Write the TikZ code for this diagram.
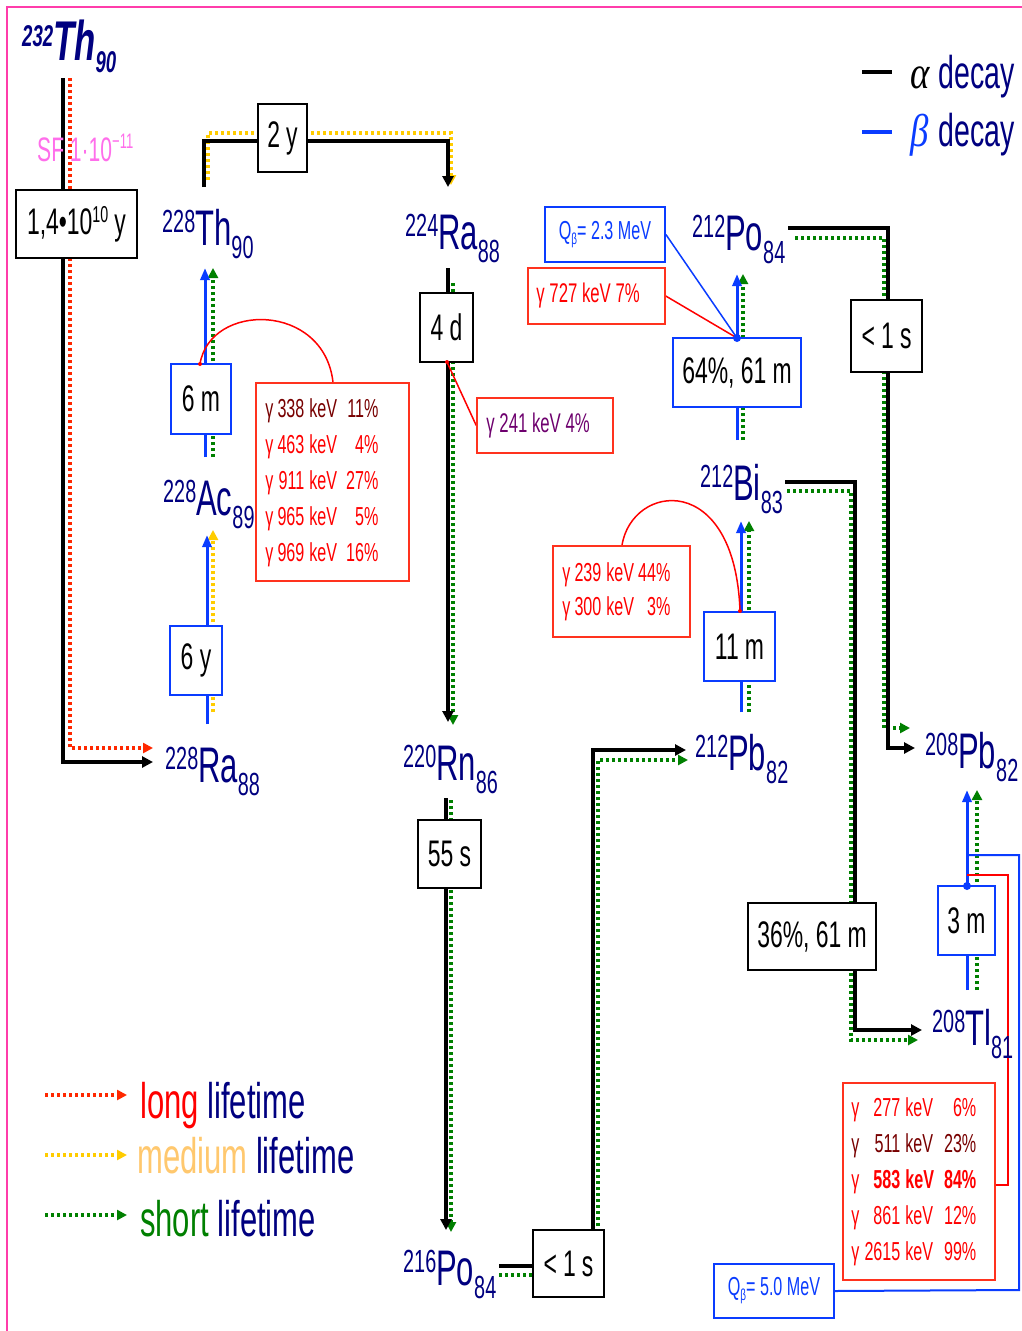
\documentclass[tikz,border=0pt]{standalone}
\usepackage{fontspec}
\setmainfont{Liberation Sans}[FakeStretch=0.62]
\newfontfamily\grk{Liberation Serif}[FakeStretch=0.8]
\usetikzlibrary{arrows.meta,backgrounds}
\definecolor{navyc}{RGB}{0,0,128}
\definecolor{bluec}{RGB}{10,60,255}
\definecolor{redd}{RGB}{255,40,0}
\definecolor{yelc}{RGB}{255,204,0}
\definecolor{greenc}{RGB}{0,128,0}
\definecolor{pinkb}{RGB}{255,60,170}
\definecolor{sfpink}{RGB}{255,110,235}
\definecolor{redt}{RGB}{255,0,0}
\definecolor{maroonc}{RGB}{120,0,0}
\definecolor{purplec}{RGB}{110,0,110}
\definecolor{gboxc}{RGB}{255,50,30}
\definecolor{mediumc}{RGB}{255,200,110}
\newcommand{\nuc}[3]{{\fontsize{32}{32}\selectfont\raisebox{13pt}{#1}}{\fontsize{50}{50}\selectfont #2}{\fontsize{32}{32}\selectfont\raisebox{-13pt}{#3}}}
\newcommand{\bx}[7]{\node[#6, minimum width={(#4-#2)*1pt}, minimum height={(#5-#3)*1pt}] (#1) at ({(#2+#4)/2},{(#3+#5)/2}) {#7};}
\newcommand{\gr}[3]{\textcolor{#1}{γ} & \textcolor{#1}{#2} & \textcolor{#1}{keV} & \textcolor{#1}{#3}\\}
\newcommand{\grb}[3]{\textcolor{#1}{γ} & \textcolor{#1}{\bfseries #2} & \textcolor{#1}{\bfseries keV} & \textcolor{#1}{\bfseries #3}\\}
\tikzset{
 alph/.style={black, line width=3.5pt},
 bet/.style={bluec, line width=3pt},
 dots/.style={line width=3.5pt, dash pattern=on 3pt off 3pt},
 tipA/.style={-{Triangle[length=11pt,width=11pt]}},
 tipD/.style={-{Triangle[length=10pt,width=10pt]}},
 tipB/.style={-{Triangle[length=12pt,width=9pt]}},
 hbox/.style={draw=black, line width=1.3pt, fill=white, inner sep=0pt, font=\fontsize{37}{37}\selectfont},
 bbox/.style={hbox, draw=bluec, line width=1.8pt},
 gbox/.style={draw=gboxc, line width=1.5pt, fill=white, inner sep=0pt},
 qbox/.style={draw=bluec, line width=1.8pt, fill=white, inner sep=0pt, text=bluec, font=\fontsize{26}{26}\selectfont},
 nucs/.style={inner sep=0pt, text=navyc, anchor=base west},
 txt/.style={inner sep=0pt, anchor=base west},
 gtext/.style={inner sep=0pt, anchor=west},
}
\begin{document}
\begin{tikzpicture}[x=1pt,y=-1pt]
\useasboundingbox (0,0) rectangle (1021,1331);
% nuclides
\node[nucs] (th232) at (22,60) {\bfseries\itshape{\fontsize{30}{30}\selectfont\raisebox{14pt}{232}}{\fontsize{56}{56}\selectfont Th}{\fontsize{30}{30}\selectfont\raisebox{-12pt}{90}}};
\node[nucs] (th228) at (162,245) {\nuc{228}{Th}{90}};
\node[nucs] (ra224) at (405,249) {\nuc{224}{Ra}{88}};
\node[nucs] (ac228) at (163,515) {\nuc{228}{Ac}{89}};
\node[nucs] (ra228) at (165,782) {\nuc{228}{Ra}{88}};
\node[nucs] (rn220) at (403,780) {\nuc{220}{Rn}{86}};
\node[nucs] (po216) at (403,1285) {\nuc{216}{Po}{84}};
\node[nucs] (pb212) at (695,770) {\nuc{212}{Pb}{82}};
\node[nucs] (bi212) at (700,500) {\nuc{212}{Bi}{83}};
\node[nucs] (po212) at (692,250) {\nuc{212}{Po}{84}};
\node[nucs] (pb208) at (925,768) {\nuc{208}{Pb}{82}};
\node[nucs] (tl208) at (932,1045) {\nuc{208}{Tl}{81}};
% SF label
\node[txt, text=sfpink] (sf) at (37,161) {\fontsize{34}{34}\selectfont SF 1·10\raisebox{13pt}{\fontsize{21}{21}\selectfont −11}};
% half-life boxes
\bx{hT}{16}{190}{137}{258}{hbox}{1,4•10\raisebox{12pt}{\fontsize{23}{23}\selectfont 10}\,y}
\bx{h2y}{258}{104}{307}{172}{hbox}{2\,y}
\bx{h6m}{171}{364}{231}{434}{bbox}{6 m}
\bx{h6y}{170}{626}{222}{695}{bbox}{6 y}
\bx{h4d}{420}{293}{473}{362}{hbox}{4 d}
\bx{h55}{418}{820}{481}{888}{hbox}{55\,s}
\bx{hla}{533}{1230}{604}{1297}{hbox}{<\,1\,s}
\bx{h64}{673}{338}{801}{407}{bbox}{64\%, 61\,m}
\bx{h11}{704}{612}{775}{681}{bbox}{11\,m}
\bx{hlb}{851}{300}{922}{372}{hbox}{<\,1\,s}
\bx{h36}{748}{903}{876}{970}{hbox}{36\%, 61\,m}
\bx{h3m}{938}{886}{995}{955}{bbox}{3\,m}
% gamma boxes
\bx{g1}{256}{383}{409}{581}{gbox}{}
\node[gtext] (g1t) at ([xshift=10pt]g1.west) {\fontsize{26}{36}\selectfont\begin{tabular}{@{}l@{\hspace{4pt}}r@{\hspace{5pt}}l@{\hspace{9pt}}r@{}}
\gr{maroonc}{338}{11\%}
\gr{redt}{463}{4\%}
\gr{redt}{911}{27\%}
\gr{redt}{965}{5\%}
\gr{redt}{969}{16\%}
\end{tabular}};
\bx{g2}{477}{398}{613}{453}{gbox}{}
\node[gtext, text=purplec] (g2t) at ([xshift=10pt]g2.west) {\fontsize{27}{27}\selectfont γ 241 keV 4\%};
\bx{g3}{528}{268}{665}{324}{gbox}{}
\node[gtext, text=redt] (g3t) at ([xshift=9pt]g3.west) {\fontsize{27}{27}\selectfont γ 727 keV 7\%};
\bx{g4}{553}{546}{690}{637}{gbox}{}
\node[gtext] (g4t) at ([xshift=10pt]g4.west) {\fontsize{26}{34}\selectfont\begin{tabular}{@{}l@{\hspace{4pt}}r@{\hspace{5pt}}l@{\hspace{4pt}}r@{}}
\gr{redt}{239}{44\%}
\gr{redt}{300}{3\%}
\end{tabular}};
\bx{g5}{843}{1083}{995}{1280}{gbox}{}
\node[gtext] (g5t) at ([xshift=9pt]g5.west) {\fontsize{26}{36}\selectfont\begin{tabular}{@{}l@{\hspace{5pt}}r@{\hspace{5pt}}l@{\hspace{10pt}}r@{}}
\gr{redt}{277}{6\%}
\gr{maroonc}{511}{23\%}
\grb{redt}{583}{84\%}
\gr{redt}{861}{12\%}
\gr{redt}{2615}{99\%}
\end{tabular}};
\bx{q1}{545}{207}{665}{262}{qbox}{Q\raisebox{-5pt}{\fontsize{16}{16}\selectfont β}= 2.3 MeV}
\bx{q2}{714}{1264}{834}{1318}{qbox}{Q\raisebox{-5pt}{\fontsize{16}{16}\selectfont β}= 5.0 MeV}
% coordinates
\coordinate (dPo) at (737,338);
\coordinate (dTl) at (967,886);
% legends
\node[txt] (lalpha) at (910,88) {\fontsize{46}{46}\selectfont{\grk\itshape α}\hspace{9pt}\textcolor{navyc}{decay}};
\node[txt] (lbeta) at (910,146) {\fontsize{46}{46}\selectfont\textcolor{bluec}{\grk\itshape β}\hspace{10pt}\textcolor{navyc}{decay}};
\node[txt] (llong) at (140,1118) {\fontsize{50}{50}\selectfont\textcolor{redt}{long} \textcolor{navyc}{lifetime}};
\node[txt] (lmed) at (137,1173) {\fontsize{50}{50}\selectfont\textcolor{mediumc}{medium} \textcolor{navyc}{lifetime}};
\node[txt] (lshort) at (140,1236) {\fontsize{50}{50}\selectfont\textcolor{greenc}{short} \textcolor{navyc}{lifetime}};
\coordinate (lr0) at (45,1095); \coordinate (lr1) at (127,1095);
\coordinate (ly0) at (45,1155); \coordinate (ly1) at (127,1155);
\coordinate (lg0) at (45,1215); \coordinate (lg1) at (127,1215);
% dots
\fill[bluec] (dPo) circle (4pt);
\fill[bluec] (dTl) circle (4pt);
\fill[redt] (200,364) circle (2pt);
\fill[redt] (740,611) circle (2pt);
\fill[redt] (447,362) circle (2pt);
\begin{scope}[on background layer]
\fill[white] (0,0) rectangle (1021,1331);
\draw[pinkb, line width=1.6pt] (7,1400) -- (7,7) -- (1100,7);
% legend lines
\draw[black, line width=4pt] (862,72) -- (892,72);
\draw[bluec, line width=4pt] (862,132) -- (892,132);
\draw[dots,redd,tipD] (lr0) -- (lr1);
\draw[dots,yelc,tipD] (ly0) -- (ly1);
\draw[dots,greenc,tipD] (lg0) -- (lg1);
% dotted lifetimes
\draw[dots,redd,tipD] (70,78) -- (70,748) -- (153,748);
\draw[dots,yelc,tipD] (208,180) -- (208,133) -- (451,133) -- (451,185);
\draw[dots,yelc,tipD] (213,712) -- (213,530);
\draw[dots,greenc,tipD] (213,457) -- (213,268);
\draw[dots,greenc,tipD] (453,283) -- (453,725);
\draw[dots,greenc,tipD] (451,800) -- (451,1232);
\draw[dots,greenc] (499,1275) -- (540,1275);
\draw[dots,greenc,tipD] (598,1232) -- (598,760) -- (688,760);
\draw[dots,greenc,tipD] (749,712) -- (749,521);
\draw[dots,greenc,tipD] (743,440) -- (743,274);
\draw[dots,greenc,tipD] (795,238) -- (884,238) -- (884,728) -- (910,728);
\draw[dots,greenc,tipD] (787,491) -- (851,491) -- (851,1040) -- (918,1040);
\draw[dots,greenc,tipD] (977,990) -- (977,790);
% alpha
\draw[alph,tipA] (63,78) -- (63,762) -- (153,762);
\draw[alph,tipA] (204,187) -- (204,141) -- (448,141) -- (448,187);
\draw[alph,tipA] (448,268) -- (448,722);
\draw[alph,tipA] (446,798) -- (446,1230);
\draw[alph] (499,1266) -- (540,1266);
\draw[alph,tipA] (593,1232) -- (593,750) -- (686,750);
\draw[alph,tipA] (788,228) -- (888,228) -- (888,748) -- (915,748);
\draw[alph,tipA] (785,482) -- (855,482) -- (855,1030) -- (922,1030);
% beta
\draw[bet,tipB] (207,724) -- (207,535);
\draw[bet,tipB] (205,457) -- (205,268);
\draw[bet,tipB] (741,712) -- (741,521);
\draw[bet,tipB] (737,440) -- (737,274);
\draw[bet,tipB] (967,990) -- (967,790);
% gamma / Q connectors
\draw[redt, line width=1.5pt] (200,364) .. controls (210,302) and (324,302) .. (g1.north -| 333,0);
\draw[redt, line width=1.5pt] (740,611) .. controls (735,470) and (632,483) .. (g4.north -| 622,0);
\draw[redt, line width=1.5pt] (447,362) -- (g2.west);
\draw[bluec, line width=1.5pt] (q1.east) -- (dPo);
\draw[redt, line width=1.5pt] (g3.east) -- (dPo);
\draw[bluec, line width=2pt] (967,855) -- (1019,855) -- (1019,1290) -- (q2.east);
\draw[redt, line width=2pt] (967,875) -- (1008,875) -- (1008,1185) -- (g5.east |- 0,1185);
\end{scope}
\end{tikzpicture}
\end{document}
